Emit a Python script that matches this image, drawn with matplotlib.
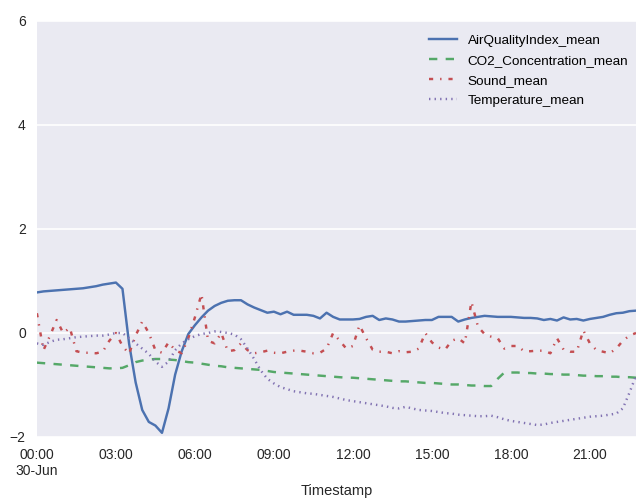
import numpy as np
import pandas as pd
import matplotlib
matplotlib.use("Agg")
import matplotlib.pyplot as plt

# 15-minute means, 30-Jun, 00:00 .. 22:45
air_quality = [
    0.78, 0.80, 0.81, 0.82, 0.83, 0.84, 0.85, 0.86, 0.88, 0.90, 0.93, 0.95,
    0.97, 0.85, -0.20, -0.95, -1.48, -1.71, -1.78, -1.92, -1.45, -0.80, -0.35, -0.02,
    0.15, 0.30, 0.43, 0.52, 0.58, 0.62, 0.63, 0.63, 0.55, 0.49, 0.44, 0.39,
    0.41, 0.36, 0.41, 0.35, 0.35, 0.35, 0.33, 0.28, 0.39, 0.31, 0.26, 0.26,
    0.26, 0.27, 0.31, 0.33, 0.25, 0.28, 0.26, 0.22, 0.22, 0.23, 0.24, 0.25,
    0.25, 0.31, 0.31, 0.31, 0.22, 0.26, 0.29, 0.31, 0.33, 0.32, 0.31, 0.31,
    0.31, 0.30, 0.29, 0.29, 0.28, 0.25, 0.27, 0.24, 0.30, 0.26, 0.27, 0.24,
    0.27, 0.29, 0.31, 0.35, 0.38, 0.39, 0.42, 0.43,
]
co2 = [
    -0.57, -0.58, -0.59, -0.60, -0.61, -0.62, -0.63, -0.64, -0.65, -0.66, -0.67, -0.68,
    -0.68, -0.67, -0.62, -0.56, -0.53, -0.51, -0.50, -0.50, -0.51, -0.52, -0.54, -0.56,
    -0.57, -0.59, -0.61, -0.63, -0.64, -0.66, -0.67, -0.68, -0.69, -0.70, -0.71, -0.73,
    -0.75, -0.76, -0.77, -0.78, -0.79, -0.80, -0.81, -0.82, -0.83, -0.84, -0.85, -0.86,
    -0.86, -0.87, -0.88, -0.89, -0.90, -0.91, -0.92, -0.93, -0.93, -0.94, -0.95, -0.96,
    -0.96, -0.97, -0.98, -0.99, -0.99, -1.00, -1.01, -1.01, -1.02, -1.02, -0.88, -0.76,
    -0.76, -0.76, -0.77, -0.77, -0.78, -0.78, -0.79, -0.79, -0.80, -0.80, -0.81, -0.82,
    -0.82, -0.83, -0.83, -0.84, -0.84, -0.85, -0.85, -0.86,
]
sound = [
    0.38, -0.33, -0.05, 0.25, 0.00, 0.10, -0.35, -0.38, -0.38, -0.39, -0.36, -0.15,
    0.00, -0.25, -0.40, -0.05, 0.22, 0.00, -0.33, -0.38, -0.18, -0.33, -0.39, -0.10,
    0.30, 0.75, -0.15, -0.20, 0.00, -0.35, -0.33, -0.20, -0.33, -0.39, -0.37, -0.34,
    -0.38, -0.39, -0.36, -0.34, -0.34, -0.36, -0.39, -0.38, -0.30, 0.00, -0.15, -0.30,
    -0.25, 0.15, -0.10, -0.32, -0.36, -0.36, -0.39, -0.35, -0.37, -0.36, -0.30, 0.00,
    -0.18, -0.28, -0.32, -0.15, -0.10, -0.20, 0.60, 0.12, -0.02, -0.07, -0.10, -0.30,
    -0.25, -0.25, -0.35, -0.35, -0.34, -0.34, -0.39, -0.10, -0.32, -0.36, -0.36, 0.05,
    -0.20, -0.33, -0.36, -0.39, -0.30, -0.15, -0.05, 0.00,
]
temperature = [
    -0.20, -0.23, -0.17, -0.13, -0.12, -0.10, -0.08, -0.07, -0.06, -0.05, -0.05, -0.03,
    0.00, 0.00, -0.10, -0.20, -0.30, -0.40, -0.55, -0.65, -0.55, -0.33, -0.20, -0.12,
    -0.06, -0.02, 0.00, 0.03, 0.02, 0.00, -0.03, -0.12, -0.30, -0.50, -0.72, -0.88,
    -0.97, -1.04, -1.08, -1.12, -1.14, -1.16, -1.17, -1.19, -1.21, -1.23, -1.26, -1.29,
    -1.31, -1.33, -1.35, -1.37, -1.39, -1.41, -1.44, -1.45, -1.42, -1.45, -1.48, -1.49,
    -1.50, -1.52, -1.54, -1.55, -1.57, -1.58, -1.59, -1.60, -1.60, -1.59, -1.62, -1.66,
    -1.69, -1.71, -1.73, -1.75, -1.77, -1.76, -1.73, -1.71, -1.69, -1.67, -1.65, -1.63,
    -1.61, -1.60, -1.59, -1.57, -1.55, -1.45, -1.15, -0.82,
]
labels = ["AirQualityIndex_mean", "CO2_Concentration_mean", "Sound_mean", "Temperature_mean"]
colors = ["#4C72B0", "#55A868", "#C44E52", "#8172B2"]
dashes = [None, (6, 6), (3, 5, 1, 5), (1, 3)]

times = pd.date_range("2016-06-30 00:00", periods=len(air_quality), freq="15min")

plt.rcParams["font.family"] = ["Liberation Sans", "DejaVu Sans"]
plt.rcParams["lines.scale_dashes"] = False

fig = plt.figure(figsize=(6.36, 5.0), dpi=100)
ax = fig.add_axes([0.058, 0.126, 0.942, 0.832])
ax.set_facecolor("#EAEAF2")
for s in ax.spines.values():
    s.set_visible(False)

for series, lab, col, d in zip([air_quality, co2, sound, temperature], labels, colors, dashes):
    line, = ax.plot(times, series, color=col, lw=1.75, label=lab)
    if d is not None:
        line.set_dashes(d)

ax.set_ylim(-2, 6)
ax.set_yticks([-2, 0, 2, 4, 6])
ax.yaxis.grid(True, color="white", lw=1.2)
ax.set_axisbelow(True)

start = times[0]
ax.set_xlim(start, start + pd.Timedelta(hours=22.75))
ticks = [start + pd.Timedelta(hours=h) for h in range(0, 22, 3)]
ax.set_xticks(ticks)
ax.set_xticklabels(["00:00\n30-Jun"] + [t.strftime("%H:%M") for t in ticks[1:]])
ax.tick_params(axis="both", length=0, labelsize=10, colors="#262626", pad=8)
ax.set_xlabel("Timestamp", fontsize=10.5, color="#262626", labelpad=4)

ax.legend(loc="upper left", bbox_to_anchor=(0.655, 0.955), bbox_transform=fig.transFigure,
          frameon=False, fontsize=9.7, handlelength=2.1, labelspacing=0.56, handletextpad=0.8)

fig.savefig("out.png", dpi=100)
